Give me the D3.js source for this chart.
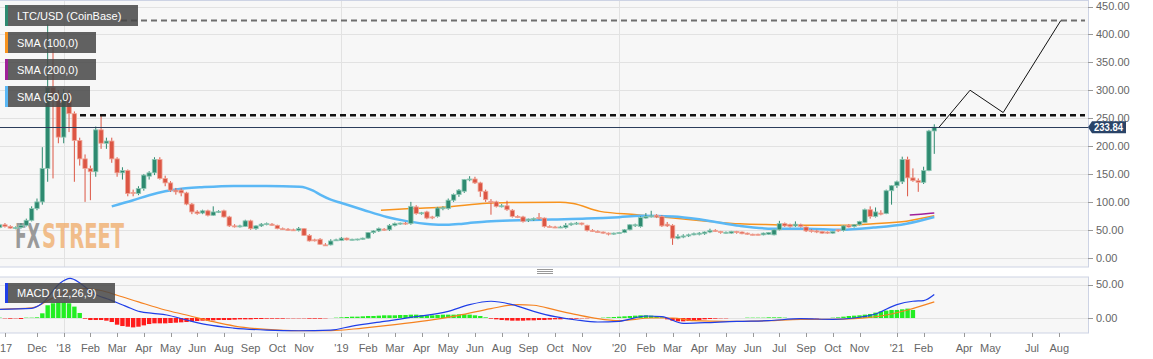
<!DOCTYPE html>
<html>
<head>
<meta charset="utf-8">
<script src="https://cdn.jsdelivr.net/npm/d3@7"></script>
<style>
body{margin:0;background:#fff;}
svg{display:block;font-family:Arial,"Liberation Sans",sans-serif;}
</style>
</head>
<body>
<div id="chart"></div>
<script>
// weekly LTC/USD candles, first bar = week of 2017-10-09
var firstWeek = "2017-10-09";
var opens  = [54,59,56,53,54,58,67,88,100,160,305,290,216,293,258,210,177,160,154,229,205,209,177,152,156,117,115,124,146,152,176,142,134,121,121,116,96,82,80,84,76,82,84,73,57,56,56,66,52,57,60,60,58,52,51,50,49,52,40,32,33,23,23,32,31,35,32,33,33,35,45,48,51,50,58,61,62,61,91,80,82,73,74,89,88,103,113,119,140,141,134,119,101,100,92,93,85,74,73,67,68,72,71,56,55,54.5,54,59,61,62,58,49,47,46,44,43,44,45,50,58,56,71,74,76,74,60,58,35,37,39,41,42,43,46,49,47,45,44,47,46,44,42,42,41,42,41,50,61,59,57,59,55,49,48,47,46,44,50,49,58,56,59,63,86,74,80,79,120,129,136,176,143,138,135,156,227];
var highs  = [61,62,58,56,62,70,92,106,198,418,377,300,302,300,262,215,185,165,235,255,215,215,180,162,158,122,128,150,155,180,180,147,137,125,124,118,98,85,86,86,92,85,86,75,60,59,68,68,58,62,63,62,59,54,53,52,55,53,42,34,35,26,33,34,37,36,34,34,36,46,49,54,53,60,63,63,64,100,94,82,84,75,91,92,106,115,123,141,146,145,136,122,105,102,96,102,87,76,75,70,72,80,72,58,57,57,62,63,64,63,59,51,49,47,45,45,46,51,60,61,74,80,84,78,76,64,60,42,42,43,45,46,47,52,51,48,47,48,48,47,45,43,43,45,46,51,66,63,61,65,61,56,51,50,48,47,48,51,58,60,60,66,88,92,90,85,122,130,138,181,181,160,142,163,229,239];
var lows   = [52,54,52,51,52,56,65,85,95,136,142,205,205,225,136,165,100,103,145,195,195,170,145,140,110,110,112,120,140,148,140,128,118,113,110,94,78,77,78,74,75,80,72,55,54,54,55,50,50,55,58,57,51,50,48,48,47,39,29,29,23,21,22,30,30,31,31,31,32,34,43,46,48,48,56,59,59,59,77,77,69,69,72,85,86,100,109,116,137,132,109,100,77,90,90,84,72,71,63,64,66,68,54,54,53,53,52,57,59,58,47,46,45,43,40,41,43,44,49,55,54,70,72,71,55,55,23,33,35,37,40,40,41,44,46,43,43,43,43,42,41,40,40,40,41,40,49,55,54,55,54,46,45,44,43,43,43,46,47,54,54,58,62,70,72,76,78,95,125,132,110,136,118,132,155,186];
var closes = [59,56,53,54,58,67,88,100,160,305,290,216,293,258,210,177,160,154,229,205,209,177,152,156,115,116,124,148,152,176,142,134,121,118,116,96,82,79,84,76,82,83,73,57,56,57,66,52,57,60,61,58,52,51,49,49,52,40,30,31,24,22,30,32,35,32,33,33.5,35,45,48,52,50,58,61,62,61,92,79,80.5,71,72,89,89.5,103,113,121,140,141,134,119,104,100,92,93,86,74,73,65,69,70,70,56,55.5,54.5,55,58,61,62,60,49,47,46,44,43,44,45,50,59,59,72,74,75,73,57,57,35,38,39,41,43,44,46,49,47,45,45.5,47,45,43,42,41,41,44,45,50,61,57,56,60,56,48,47,46,44,44,47,48,57,55,59,65,86,74,82,78,120,129,136,176,143,138,135,156,227,233.84];

// moving averages: [bar, value]
var sma50  = [[21,92],[25,103],[28,112],[31,119],[34.4,124],[37.5,126],[43.8,128.6],[50,128.6],[56.2,127],[58.7,120],[60,113],[62,104],[64,98],[68,86],[72.5,73],[76.2,65.5],[80.6,60],[83.7,59],[86.8,61],[91.2,65],[97.4,67],[103.4,68.5],[109.9,70],[116,72.6],[120,75],[126.1,74],[132.4,66.7],[138.6,57],[144.9,52],[151.1,52],[157.4,50],[163.6,54],[169.8,61],[175,73]];
var sma100 = [[71.4,85],[77,88],[83.7,91],[91.2,97.6],[97.4,99],[104.9,99.4],[107.4,97],[112.4,83],[119.3,77],[123.7,73],[126.1,71],[132.4,65.5],[138.6,60.7],[144.9,59],[151.1,58],[157.4,58],[163.6,61],[169.8,65.5],[175,75]];
var sma200 = [[170.4,76.5],[172.5,78],[175,80]];

// MACD (12,26,9)
var macdLine = [[0,13],[6,14.4],[8,22],[11.3,52],[13.2,59],[15.1,52],[17.5,37],[20.7,27],[23.8,17],[26.3,9.5],[28.7,7],[31.3,4.5],[35,-3],[38.8,-10],[43.8,-15],[50,-18],[56,-19],[62,-18],[66,-12],[72,-5],[78,2],[84,10],[88,20],[92,25],[96,20],[100,10],[104,2],[108,-3],[112,-6],[116,-5],[121,3],[124,2],[128,-8],[132,-7],[138,-5],[144,-4],[150,-1],[156,-2],[160,0],[164,6],[168,20],[171,25],[173,26],[175,35]];
var signalLine = [[0,13],[6,15],[10,30],[13,40],[16,44],[19,41],[22,34],[26,24],[31,12],[35,4.5],[40,-5.5],[44,-12],[50,-17],[56,-19],[62,-19],[68,-15],[74,-10],[80,-4],[86,4],[92,14],[97,20],[100,19],[104,12],[108,5],[112,-1],[116,-4],[122,0],[126,0],[130,-4],[136,-5],[144,-4],[150,-2],[156,-2],[160,-1],[165,3],[170,12],[175,24]];
var macdHist = [0.5,-0.5,-1,-0.5,-1.5,0.5,0.5,1,7,19,22,23,23,22,17,7.5,-1,-3,-3,-3,-4,-6,-10,-12,-13,-14,-13,-11,-9,-8,-8,-8,-7.5,-7,-6.5,-6,-5,-4.5,-4,-4,-3.5,-3,-3,-3,-2.5,-2,-2,-2,-1.5,-1.5,-1,-1,-1,-1,-0.5,-0.5,-0.5,-0.5,-1,-1,-1,-0.5,0,0.5,1,1.5,2,2,2.5,3,3,3.5,4,4,4,4.5,4.5,5,5,4.5,4,4,4.5,5,5,5,5.5,5.5,5,4,3,1,-1,-2,-3,-3.5,-4,-4,-4,-3.5,-3.5,-3,-3,-2.5,-2,-2,-1.5,-1,-1,-0.5,-0.5,0,0,0.5,1,1.5,2,2.5,3,3.5,4,4,3.5,3,1,-2,-4,-5,-5,-4.5,-4,-3,-2,-1.5,-1,-0.5,-0.5,0,0,0,0.5,0.5,0.5,0.5,1,1,1,0.5,0,0,-0.5,-0.5,-0.5,-0.5,0,0,0.5,1,2,3,3.5,4,5,6,8,10,11,12,12,13,14,12];

// price axis ticks
var priceTicks = [0,50,100,150,200,250,300,350,400,450];
var macdTicks = [0,50];
var lastPrice = 233.84;
var athLevel = 425, resistLevel = 255;
var projection = [[175.9,233.84],[181.7,300],[187.9,260],[198.7,425]];

// x axis tick bars and labels
var xTickBars = [1,7,12,17,22,27,32,37,42,47,52,57,64,69,74,79,84,89,94,99,104,109,116,121,126,131,136,141,146,151,156,161,168,173,180.6,185.5,193.3,198.4];
var xTickLabels = ["'17","Dec","'18","Feb","Mar","Apr","May","Jun","Aug","Sep","Oct","Nov","'19","Feb","Mar","Apr","May","Jun","Aug","Sep","Oct","Nov","'20","Feb","Mar","Apr","May","Jun","Jul","Sep","Oct","Nov","'21","Feb","Apr","May","Jul","Aug"];
var yearBars = [12,64,116,168];

var legendItems = [
	{label:"LTC/USD (CoinBase)", color:"#2e8a70"},
	{label:"SMA (100,0)", color:"#f7931e"},
	{label:"SMA (200,0)", color:"#a0209a"},
	{label:"SMA (50,0)", color:"#5bb8f5"}
];

var width = 1153, height = 359, plotRight = 1088;
var mainBox = {top: 0.5, bottom: 267}, macdBox = {top: 277, bottom: 333};
var upColor = "#2e8a70", downColor = "#dc5644";

var start = new Date(firstWeek + "T00:00:00");
var candles = opens.map(function(o, i){
	return {i: i, date: d3.timeWeek.offset(start, i), o: o, h: highs[i], l: lows[i], c: closes[i]};
});

var x = d3.scaleLinear().domain([0.075, 203.78]).range([0, plotRight]);
var y = d3.scaleLinear().domain([0, 450]).range([257.7, 6.5]);
var my = d3.scaleLinear().domain([0, 50]).range([318, 284.5]);

var svg = d3.select("#chart").append("svg")
	.attr("width", width)
	.attr("height", height);

var defs = svg.append("defs");
defs.append("clipPath").attr("id", "clipMain").append("rect")
	.attr("x", 0).attr("y", mainBox.top).attr("width", plotRight).attr("height", mainBox.bottom - mainBox.top);
defs.append("clipPath").attr("id", "clipMacd").append("rect")
	.attr("x", 0).attr("y", macdBox.top).attr("width", plotRight).attr("height", macdBox.bottom - macdBox.top);

// panel backgrounds
[mainBox, macdBox].forEach(function(b){
	svg.append("rect")
		.attr("x", 0).attr("y", b.top)
		.attr("width", plotRight).attr("height", b.bottom - b.top)
		.attr("fill", "#f7f7f7");
});

// grid
svg.append("g").selectAll("line")
	.data(priceTicks)
	.enter().append("line")
		.attr("x1", 0).attr("x2", plotRight)
		.attr("y1", function(d){return Math.round(y(d)) + 0.5;})
		.attr("y2", function(d){return Math.round(y(d)) + 0.5;})
		.attr("stroke", "#e2e2e2");
svg.append("g").selectAll("line")
	.data(macdTicks)
	.enter().append("line")
		.attr("x1", 0).attr("x2", plotRight)
		.attr("y1", function(d){return Math.round(my(d)) + 0.5;})
		.attr("y2", function(d){return Math.round(my(d)) + 0.5;})
		.attr("stroke", "#e2e2e2");
[mainBox, macdBox].forEach(function(b){
	svg.append("g").selectAll("line")
		.data(yearBars)
		.enter().append("line")
			.attr("x1", function(d){return Math.round(x(d)) + 0.5;})
			.attr("x2", function(d){return Math.round(x(d)) + 0.5;})
			.attr("y1", b.top).attr("y2", b.bottom)
			.attr("stroke", "#e2e2e2");
});

// panel borders
[mainBox, macdBox].forEach(function(b){
	svg.append("rect")
		.attr("x", -1).attr("y", b.top)
		.attr("width", plotRight + 1.5).attr("height", b.bottom - b.top)
		.attr("fill", "none")
		.attr("stroke", "#cdd3e4");
});

// drag handle between panels
svg.append("g").selectAll("line")
	.data([269.5, 271.5, 273.5])
	.enter().append("line")
		.attr("x1", 537).attr("x2", 553)
		.attr("y1", function(d){return d;}).attr("y2", function(d){return d;})
		.attr("stroke", "#999");

// watermark
var logo = svg.append("g").attr("opacity", 0.85)
	.style("font-family", "'DejaVu Sans', sans-serif")
	.style("font-weight", "bold")
	.style("font-size", "34px");
logo.append("text").attr("x", 15).attr("y", 248)
	.attr("textLength", 25).attr("lengthAdjust", "spacingAndGlyphs")
	.attr("fill", "#8a8a8a").text("FX");
logo.append("text").attr("x", 42).attr("y", 248)
	.attr("textLength", 82).attr("lengthAdjust", "spacingAndGlyphs")
	.attr("fill", "#f0b377").text("STREET");

var plot = svg.append("g").attr("clip-path", "url(#clipMain)");

// moving averages
var line = d3.line()
	.x(function(d){return x(d[0]);})
	.y(function(d){return y(d[1]);})
	.curve(d3.curveMonotoneX);

plot.append("path").datum(sma100)
	.attr("d", line).attr("fill", "none")
	.attr("stroke", "#f7931e").attr("stroke-width", 1.5);
plot.append("path").datum(sma50)
	.attr("d", line).attr("fill", "none")
	.attr("stroke", "#5bb8f5").attr("stroke-width", 2.5);
plot.append("path").datum(sma200)
	.attr("d", line).attr("fill", "none")
	.attr("stroke", "#a0209a").attr("stroke-width", 1.5);

// candles
var candle = plot.append("g").selectAll("g")
	.data(candles)
	.enter().append("g");

candle.append("line")
	.attr("x1", function(d){return x(d.i);})
	.attr("x2", function(d){return x(d.i);})
	.attr("y1", function(d){return y(d.h);})
	.attr("y2", function(d){return y(d.l);})
	.attr("stroke", function(d){return d.c >= d.o ? upColor : downColor;})
	.attr("stroke-width", 1);

candle.append("rect")
	.attr("x", function(d){return x(d.i) - 2.2;})
	.attr("width", 4.4)
	.attr("y", function(d){return y(Math.max(d.o, d.c));})
	.attr("height", function(d){return Math.max(1, Math.abs(y(d.o) - y(d.c)));})
	.attr("fill", function(d){return d.c >= d.o ? upColor : downColor;})
	.attr("stroke", function(d){return d.c >= d.o ? "#8fc9b6" : "#f0a596";})
	.attr("stroke-width", 0.8);

// reference levels
plot.append("line")
	.attr("x1", 121).attr("x2", 1085)
	.attr("y1", y(athLevel)).attr("y2", y(athLevel))
	.attr("stroke", "#6e6e6e").attr("stroke-width", 2)
	.attr("stroke-dasharray", "6,4");
plot.append("line")
	.attr("x1", 80).attr("x2", 1085)
	.attr("y1", y(resistLevel)).attr("y2", y(resistLevel))
	.attr("stroke", "#111").attr("stroke-width", 2.5)
	.attr("stroke-dasharray", "6,4");
plot.append("line")
	.attr("x1", 0).attr("x2", plotRight)
	.attr("y1", Math.round(y(lastPrice)) + 0.5).attr("y2", Math.round(y(lastPrice)) + 0.5)
	.attr("stroke", "#2c3e5c").attr("stroke-width", 1);

plot.append("path").datum(projection)
	.attr("d", d3.line().x(function(d){return x(d[0]);}).y(function(d){return y(d[1]);}))
	.attr("fill", "none").attr("stroke", "#111").attr("stroke-width", 1);

// legend boxes
var legend = svg.append("g").selectAll("g")
	.data(legendItems)
	.enter().append("g")
		.attr("transform", function(d, i){return "translate(5," + (5 + i * 27) + ")";});
legend.append("rect")
	.attr("width", function(d, i){return i == 0 ? 133 : (i == 3 ? 85 : 91);})
	.attr("height", 21)
	.attr("fill", "#474747").attr("fill-opacity", 0.85);
legend.append("rect")
	.attr("width", 3).attr("height", 21)
	.attr("fill", function(d){return d.color;});
legend.append("text")
	.attr("x", 12).attr("y", 14.5)
	.attr("fill", "#fff")
	.style("font-size", "11px")
	.text(function(d){return d.label;});

// MACD panel
var macdG = svg.append("g").attr("clip-path", "url(#clipMacd)");
macdG.selectAll("rect")
	.data(macdHist)
	.enter().append("rect")
		.attr("x", function(d, i){return x(i) - 2.2;})
		.attr("width", 4.4)
		.attr("y", function(d){return d >= 0 ? my(d) : my(0);})
		.attr("height", function(d){return Math.abs(my(d) - my(0));})
		.attr("fill", function(d){return d >= 0 ? "#22ee22" : "#ff1c1c";});

var mline = d3.line()
	.x(function(d){return x(d[0]);})
	.y(function(d){return my(d[1]);})
	.curve(d3.curveMonotoneX);
macdG.append("path").datum(signalLine)
	.attr("d", mline).attr("fill", "none")
	.attr("stroke", "#f58220").attr("stroke-width", 1.2);
macdG.append("path").datum(macdLine)
	.attr("d", mline).attr("fill", "none")
	.attr("stroke", "#1f3ee8").attr("stroke-width", 1.2);

var macdLegend = svg.append("g").attr("transform", "translate(5,283)");
macdLegend.append("rect").attr("width", 110).attr("height", 20)
	.attr("fill", "#474747").attr("fill-opacity", 0.85);
macdLegend.append("rect").attr("width", 3).attr("height", 20).attr("fill", "#1f3ee8");
macdLegend.append("text").attr("x", 12).attr("y", 14)
	.attr("fill", "#fff").style("font-size", "11px")
	.text("MACD (12,26,9)");

// right axes
function rightAxis(scale, ticks){
	var g = svg.append("g");
	g.selectAll("line")
		.data(ticks)
		.enter().append("line")
			.attr("x1", plotRight).attr("x2", plotRight + 5)
			.attr("y1", function(d){return Math.round(scale(d)) + 0.5;})
			.attr("y2", function(d){return Math.round(scale(d)) + 0.5;})
			.attr("stroke", "#999");
	g.selectAll("text")
		.data(ticks)
		.enter().append("text")
			.attr("x", plotRight + 8)
			.attr("y", function(d){return scale(d);})
			.attr("dy", "0.35em")
			.attr("fill", "#666")
			.style("font-size", "11px")
			.text(function(d){return d3.format(".2f")(d);});
}
rightAxis(y, priceTicks);
rightAxis(my, macdTicks);

// last price tag
var tagY = y(lastPrice);
svg.append("path")
	.attr("d", "M" + (plotRight) + "," + tagY + "L" + (plotRight + 4) + "," + (tagY - 6) + "V" + (tagY - 6) + "H" + (plotRight + 38) + "V" + (tagY + 6) + "H" + (plotRight + 4) + "Z")
	.attr("fill", "#2a4468");
svg.append("text")
	.attr("x", plotRight + 6).attr("y", tagY).attr("dy", "0.36em")
	.attr("fill", "#fff")
	.style("font-size", "10.5px").style("font-weight", "bold")
	.attr("textLength", 29).attr("lengthAdjust", "spacingAndGlyphs")
	.text(d3.format(".2f")(lastPrice));

// bottom axis
var xa = svg.append("g");
xa.selectAll("line")
	.data(xTickBars)
	.enter().append("line")
		.attr("x1", function(d){return Math.round(x(d)) + 0.5;})
		.attr("x2", function(d){return Math.round(x(d)) + 0.5;})
		.attr("y1", macdBox.bottom).attr("y2", macdBox.bottom + 4)
		.attr("stroke", "#999");
xa.selectAll("text")
	.data(xTickBars)
	.enter().append("text")
		.attr("x", function(d){return x(d);})
		.attr("y", 352)
		.attr("text-anchor", "middle")
		.attr("fill", "#666")
		.style("font-size", "11px")
		.text(function(d, i){return xTickLabels[i];});
</script>
</body>
</html>
